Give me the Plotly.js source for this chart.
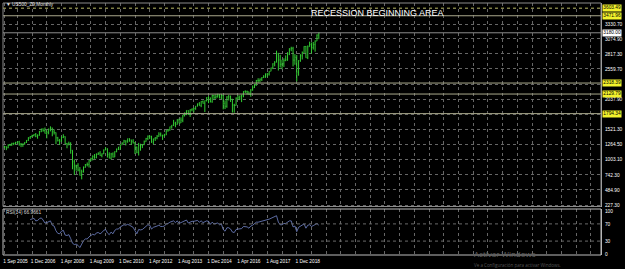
<!DOCTYPE html>
<html>
<head>
<meta charset="utf-8">
<script src="https://cdn.plot.ly/plotly-3.0.1.min.js"></script>
<style>
html,body{margin:0;padding:0;background:#000;}
#chart{width:625px;height:269px;}
</style>
</head>
<body>
<div id="chart"></div>
<script>
// Monthly bars, Sep 2005 .. Dec 2019 (index 0 = Sep 2005)
const opens = [
1220.3,1228.8,1207.0,1249.5,
1248.3,1280.1,1280.7,1294.8,1310.6,1270.1,1270.2,1276.7,1303.8,1335.9,1377.9,1400.6,
1418.3,1438.2,1406.8,1420.9,1482.4,1530.6,1503.4,1455.3,1474.0,1526.8,1549.4,1481.1,
1468.4,1378.6,1330.6,1322.7,1385.6,1400.4,1280.0,1267.4,1282.8,1166.4,968.8,896.2,
903.3,825.9,735.1,797.9,872.8,919.1,919.3,987.5,1020.6,1057.1,1036.2,1095.6,
1115.1,1073.9,1104.5,1169.4,1186.7,1089.4,1030.7,1101.6,1049.3,1141.2,1183.3,1180.6,
1257.6,1286.1,1327.2,1325.8,1363.6,1345.2,1320.6,1292.3,1218.9,1131.4,1253.3,1247.0,
1257.6,1312.4,1365.7,1408.5,1397.9,1310.3,1362.2,1379.3,1406.6,1440.7,1412.2,1416.2,
1426.2,1498.1,1514.7,1569.2,1597.6,1630.7,1606.3,1685.7,1633.0,1681.6,1756.5,1805.8,
1848.4,1782.6,1859.5,1872.3,1884.0,1923.6,1960.2,1930.7,2003.4,1972.3,2018.1,2067.6,
2058.9,1995.0,2104.5,2067.9,2085.5,2107.4,2063.1,2103.8,1972.2,1920.0,2079.4,2080.4,
2043.9,1940.2,1932.2,2059.7,2065.3,2097.0,2098.9,2173.6,2171.0,2168.3,2126.2,2198.8,
2238.8,2278.9,2363.6,2362.7,2384.2,2411.8,2423.4,2470.3,2471.7,2519.4,2575.3,2647.6,
2673.6,2823.8,2713.8,2640.9,2648.1,2705.3,2718.4,2816.3,2901.5,2914.0,2711.7,2760.2,
2506.9,2704.1,2784.5,2834.4,2945.8,2752.1,2941.8,2980.4,2926.5,2976.7,3037.6,3141.0
];
const highs = [
1243.1,1233.3,1270.6,1275.8,
1294.9,1297.6,1310.9,1318.2,1326.7,1290.7,1280.4,1306.7,1340.3,1389.5,1407.9,1431.8,
1441.6,1461.6,1438.9,1498.0,1535.6,1540.6,1555.9,1503.9,1538.7,1576.1,1552.8,1523.6,
1471.8,1396.0,1359.7,1404.6,1440.2,1404.1,1292.2,1313.2,1303.0,1167.0,1007.5,918.9,
943.9,877.9,833.0,888.7,930.2,956.2,996.7,1039.5,1080.2,1101.4,1113.7,1130.4,
1150.5,1112.4,1180.2,1219.8,1200.3,1131.2,1120.9,1129.2,1148.9,1196.1,1227.1,1262.6,
1302.7,1344.1,1332.3,1366.6,1370.6,1347.0,1356.5,1307.4,1229.3,1292.7,1277.6,1269.4,
1333.5,1378.0,1419.2,1422.4,1415.3,1363.5,1391.7,1426.7,1474.5,1471.0,1434.3,1448.0,
1509.9,1530.9,1570.3,1597.6,1687.2,1654.2,1698.8,1709.7,1729.9,1775.2,1813.6,1849.4,
1850.8,1867.9,1884.0,1897.3,1924.0,1968.2,1991.4,2005.0,2019.3,2018.2,2075.8,2093.6,
2072.4,2119.6,2117.5,2125.9,2134.7,2129.9,2132.8,2112.7,2020.9,2094.3,2116.5,2104.3,
2043.9,1963.0,2072.2,2111.1,2103.5,2120.6,2177.1,2193.8,2187.9,2169.6,2214.1,2277.5,
2301.0,2371.5,2401.0,2398.2,2418.7,2453.8,2484.0,2490.9,2519.4,2583.0,2657.7,2695.0,
2872.9,2836.0,2801.9,2717.5,2742.2,2791.5,2848.0,2916.5,2940.9,2939.9,2815.2,2800.2,
2709.0,2813.5,2860.3,2949.5,2954.1,2964.2,3028.0,3013.6,3022.0,3050.1,3154.3,3183.0
];
const lows = [
1201.1,1168.2,1201.1,1246.6,
1245.7,1253.6,1268.4,1280.7,1245.3,1219.3,1224.5,1261.3,1290.9,1327.1,1361.0,1385.9,
1404.0,1389.4,1364.0,1416.4,1476.7,1484.2,1454.3,1370.6,1439.3,1489.6,1406.1,1435.7,
1270.1,1316.8,1257.0,1312.0,1373.1,1272.0,1200.4,1248.5,1106.4,839.8,741.0,815.7,
804.2,734.5,666.8,783.3,866.1,888.9,869.3,978.5,992.0,1020.2,1029.4,1085.9,
1071.6,1044.5,1101.0,1167.5,1040.8,1028.3,1010.9,1039.7,1048.0,1131.9,1173.0,1179.8,
1257.6,1284.5,1249.1,1294.7,1311.8,1258.1,1282.9,1101.5,1114.2,1074.8,1158.7,1202.4,
1257.6,1312.4,1340.0,1357.4,1292.0,1266.7,1325.4,1354.7,1396.6,1403.3,1343.4,1398.1,
1426.2,1485.0,1501.5,1536.0,1581.3,1560.3,1606.3,1627.5,1633.0,1646.5,1746.2,1768.0,
1770.5,1737.9,1834.4,1814.4,1859.8,1916.0,1930.7,1904.8,1964.0,1820.7,2001.0,1972.6,
1988.1,1980.9,2039.7,2048.4,2067.9,2056.3,2044.0,1867.0,1871.9,1893.7,2019.4,1993.3,
1812.3,1810.1,1932.2,2033.8,2025.9,1991.7,2074.0,2147.6,2119.1,2114.7,2084.0,2187.4,
2233.6,2271.7,2322.3,2329.0,2352.7,2405.7,2407.7,2417.4,2446.6,2519.4,2557.5,2605.5,
2673.6,2532.7,2585.9,2553.8,2594.6,2692.0,2699.0,2796.3,2864.1,2603.5,2631.1,2346.6,
2444.0,2681.8,2722.3,2834.4,2750.5,2728.8,2941.8,2822.1,2891.9,2855.9,3037.6,3070.3
];
const closes = [
1228.8,1207.0,1249.5,1248.3,
1280.1,1280.7,1294.8,1310.6,1270.1,1270.2,1276.7,1303.8,1335.9,1377.9,1400.6,1418.3,
1438.2,1406.8,1420.9,1482.4,1530.6,1503.4,1455.3,1474.0,1526.8,1549.4,1481.1,1468.4,
1378.6,1330.6,1322.7,1385.6,1400.4,1280.0,1267.4,1282.8,1166.4,968.8,896.2,903.3,
825.9,735.1,797.9,872.8,919.1,919.3,987.5,1020.6,1057.1,1036.2,1095.6,1115.1,
1073.9,1104.5,1169.4,1186.7,1089.4,1030.7,1101.6,1049.3,1141.2,1183.3,1180.6,1257.6,
1286.1,1327.2,1325.8,1363.6,1345.2,1320.6,1292.3,1218.9,1131.4,1253.3,1247.0,1257.6,
1312.4,1365.7,1408.5,1397.9,1310.3,1362.2,1379.3,1406.6,1440.7,1412.2,1416.2,1426.2,
1498.1,1514.7,1569.2,1597.6,1630.7,1606.3,1685.7,1633.0,1681.6,1756.5,1805.8,1848.4,
1782.6,1859.5,1872.3,1884.0,1923.6,1960.2,1930.7,2003.4,1972.3,2018.1,2067.6,2058.9,
1995.0,2104.5,2067.9,2085.5,2107.4,2063.1,2103.8,1972.2,1920.0,2079.4,2080.4,2043.9,
1940.2,1932.2,2059.7,2065.3,2097.0,2098.9,2173.6,2171.0,2168.3,2126.2,2198.8,2238.8,
2278.9,2363.6,2362.7,2384.2,2411.8,2423.4,2470.3,2471.7,2519.4,2575.3,2647.6,2673.6,
2823.8,2713.8,2640.9,2648.1,2705.3,2718.4,2816.3,2901.5,2914.0,2711.7,2760.2,2506.9,
2704.1,2784.5,2834.4,2945.8,2752.1,2941.8,2980.4,2926.5,2976.7,3037.6,3141.0,3176.0
];
const rsi = [
null,null,null,null,null,null,null,null,null,null,null,null,null,null,
80,82,83,77,78,82,84,79,72,73,76,77,67,65,
54,48,47,53,55,44,43,45,36,25,22,23,
20,15,23,31,35,35,40,43,46,44,49,50,
47,50,55,57,49,45,51,47,55,58,58,63,
65,68,67,69,67,65,62,54,47,57,56,57,
61,65,68,67,58,62,63,65,67,64,64,65,
70,71,74,75,77,73,77,71,73,76,78,79,
72,75,76,76,77,78,74,77,73,75,77,76,
69,74,70,71,72,68,70,57,53,61,61,58,
51,50,57,58,59,59,64,64,63,60,65,67,
70,74,74,75,76,77,79,79,81,83,85,86,
89,74,68,68,71,71,74,77,77,63,65,52,
62,65,67,70,60,67,68,64,66,68,71,67
];
const dateTickMonths = [0,15,31,47,63,79,95,111,127,143,159];
const dateTickLabels = ["1 Sep 2005","1 Dec 2006","1 Apr 2008","1 Aug 2009","1 Dec 2010","1 Apr 2012","1 Aug 2013","1 Dec 2014","1 Apr 2016","1 Aug 2017","1 Dec 2018"];
// grid levels of the price scale; labels hidden under the marker boxes are ""
const priceTicks = [227.30,484.90,742.30,1003.10,1264.50,1521.30,1779.90,2037.90,2297.10,2559.70,2817.30,3074.90,3330.70,3589.30];
const priceTickText = ["227.30","484.90","742.30","1003.10","1264.50","1521.30","","2037.90","","2559.70","2817.30","3074.90","3330.70",""];
const levelPrices = [3603.49,3471.96,3180.00,2318.39,2129.79,1794.34];
const levelLabels = ["3603.49","3471.96","3180.00","2318.39","2129.79","1794.34"];
const levelKinds  = ["yellowDot","yellow","white","yellow","yellow","yellow"];
const rsiLevels = [30,70];
const rsiTicks = [0,30,70,100];
const chartTitle = "RECESSION BEGINNING AREA";
const symbolLabel = "\u25BC US500_Z9,Monthly";
const rsiLabel = "RSI(14) 66.9661";
const watermark1 = "Activar Windows";
const watermark2 = "Ve a Configuración para activar Windows.";

const idx = closes.map((_, i) => i);

// grid every 8 bars, labels every 16
const gridVals = [0];
for (let v = 7; v <= 325; v += 8) gridVals.push(v);
const gridText = gridVals.map(v => {
  const k = dateTickMonths.indexOf(v);
  return k >= 0 ? dateTickLabels[k] : "";
});

const FONT = "Liberation Sans, Arial, sans-serif";
const barColor = "#33cc33";

const traces = [
  {
    type: "ohlc", x: idx, open: opens, high: highs, low: lows, close: closes,
    xaxis: "x", yaxis: "y",
    increasing: {line: {color: barColor, width: 1}},
    decreasing: {line: {color: barColor, width: 1}},
    tickwidth: 0.3, hoverinfo: "skip", showlegend: false
  },
  {
    type: "scatter", mode: "lines", x: idx, y: rsi,
    xaxis: "x", yaxis: "y2",
    line: {color: "#7486cc", width: 0.8},
    hoverinfo: "skip", showlegend: false, connectgaps: false
  }
];

const plotTop = 3, plotBottom = 255, H = plotBottom - plotTop;
const pf = py => (plotBottom - py) / H;

const shapes = [];
const annotations = [];

levelPrices.forEach((p, i) => {
  const kind = levelKinds[i];
  let col = "#aaa98c", dash = "solid";
  if (kind === "yellowDot") { col = "#8f8f3a"; dash = "dot"; }
  if (kind === "white") { col = "#8c8c8c"; }
  shapes.push({type: "line", xref: "paper", x0: 0, x1: 1, yref: "y", y0: p, y1: p,
    line: {color: col, width: 1, dash: dash}, layer: "above"});
  annotations.push({xref: "paper", x: 1, xanchor: "left", xshift: 1, yref: "y", y: p, yanchor: "middle",
    text: levelLabels[i], showarrow: false,
    font: {family: FONT, size: 4.8, color: "#000"},
    bgcolor: kind === "white" ? "#ffffff" : "#f2f22c", borderpad: 0.3});
});
rsiLevels.forEach(v => shapes.push({type: "line", xref: "paper", x0: 0, x1: 1, yref: "y2", y0: v, y1: v,
  line: {color: "#6a6a6a", width: 1, dash: "dot"}}));
shapes.push({type: "rect", xref: "paper", yref: "paper", x0: 0, x1: 1, y0: pf(206.5), y1: 1,
  line: {color: "#8a8a8a", width: 1}, layer: "above"});
shapes.push({type: "rect", xref: "paper", yref: "paper", x0: 0, x1: 1, y0: 0, y1: pf(209),
  line: {color: "#bdbdbd", width: 1}, layer: "above"});

annotations.push({xref: "paper", x: 0, xanchor: "left", xshift: 1, yref: "paper", y: pf(5), yanchor: "middle",
  text: symbolLabel, showarrow: false, font: {family: FONT, size: 4.8, color: "#e0e0e0"}});
annotations.push({xref: "paper", x: (377 - 3) / 598, xanchor: "center", yref: "paper", y: pf(13), yanchor: "middle",
  text: chartTitle, showarrow: false, font: {family: FONT, size: 9, color: "#ffffff"}});
annotations.push({xref: "paper", x: 0, xanchor: "left", xshift: 1, yref: "paper", y: pf(212.5), yanchor: "middle",
  text: rsiLabel, showarrow: false, font: {family: FONT, size: 4.8, color: "#d8d8d8"}});
annotations.push({xref: "paper", x: (473 - 3) / 598, xanchor: "left", align: "left",
  yref: "paper", y: pf(269.3), yanchor: "bottom", borderpad: 0,
  text: watermark1 + "<br><span style='font-size:4.5px;color:#555555'>" + watermark2 + "</span>",
  showarrow: false, font: {family: "Open Sans, sans-serif", size: 8, color: "#606060"}});

const pxPerBar = 1.838, firstBarPx = 4.5;
const xMin = -(firstBarPx - 3) / pxPerBar;
const xMax = xMin + 598 / pxPerBar;

const layout = {
  width: 625, height: 269,
  margin: {l: 3, r: 24, t: 3, b: 14, pad: 0},
  paper_bgcolor: "#000", plot_bgcolor: "#000",
  showlegend: false,
  xaxis: {
    range: [xMin, xMax], anchor: "y2", type: "linear",
    tickmode: "array", tickvals: gridVals, ticktext: gridText,
    showgrid: true, gridcolor: "#666666", griddash: "dot", gridwidth: 1,
    zeroline: false, showline: false, ticks: "",
    tickfont: {family: FONT, size: 4.8, color: "#ffffff"},
    ticklabelshift: 11, ticklabelstandoff: 2,
    rangeslider: {visible: false}, fixedrange: true
  },
  yaxis: {
    domain: [pf(206.5), 1], range: [201.6, 3690.8], side: "right",
    tickmode: "array", tickvals: priceTicks, ticktext: priceTickText,
    showgrid: true, gridcolor: "#666666", griddash: "dot", gridwidth: 1,
    zeroline: false, showline: true, linecolor: "#b0b0b0", ticks: "",
    tickfont: {family: FONT, size: 4.8, color: "#ffffff"},
    ticklabelstandoff: 2, fixedrange: true
  },
  yaxis2: {
    domain: [0, pf(209)], range: [-2.33, 104.65], side: "right",
    tickmode: "array", tickvals: rsiTicks, ticktext: rsiTicks.map(String),
    showgrid: false, zeroline: false, showline: true, linecolor: "#b0b0b0", ticks: "",
    tickfont: {family: FONT, size: 4.8, color: "#ffffff"},
    ticklabelstandoff: 2, fixedrange: true
  },
  shapes: shapes,
  annotations: annotations
};

Plotly.newPlot("chart", traces, layout, {displayModeBar: false, staticPlot: true});
</script>
</body>
</html>
